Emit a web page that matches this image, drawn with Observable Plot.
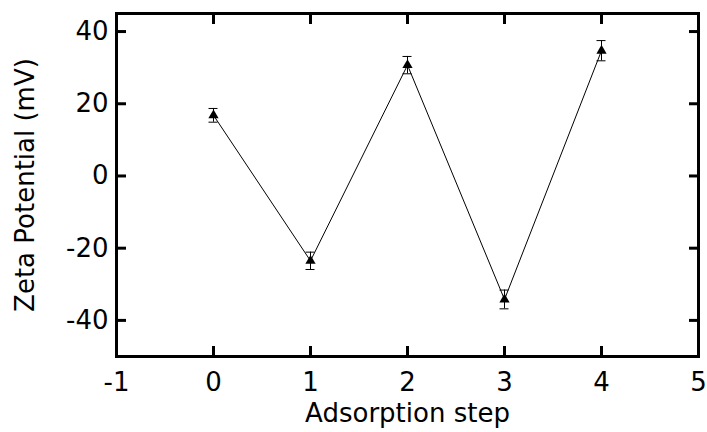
<!DOCTYPE html>
<html>
<head>
<meta charset="utf-8">
<script src="https://cdn.jsdelivr.net/npm/d3@7"></script>
<script src="https://cdn.jsdelivr.net/npm/@observablehq/plot@0.6"></script>
<style>
  html, body { margin: 0; padding: 0; background: #fff; }
  #chart svg { display: block; }
</style>
</head>
<body>
<div id="chart"></div>
<script>
const steps = [0, 1, 2, 3, 4];
const zeta = [16.8, -23.5, 30.7, -34.2, 34.7];
const errs = [1.9, 2.4, 2.4, 2.6, 2.8];
const xTicks = [-1, 0, 1, 2, 3, 4, 5];
const yTicks = [-40, -20, 0, 20, 40];

const data = steps.map((s, i) => ({x: s, y: zeta[i], lo: zeta[i] - errs[i], hi: zeta[i] + errs[i]}));

const font = "DejaVu Sans, Verdana, sans-serif";
const fmt = d => String(d);

const chart = Plot.plot({
  width: 707,
  height: 432,
  marginLeft: 116,
  marginRight: 9,
  marginTop: 13,
  marginBottom: 76,
  style: {fontFamily: font, fontSize: "26px", color: "#000", background: "#fff"},
  x: {domain: [-1, 5]},
  y: {domain: [-50, 45]},
  marks: [
    // inward ticks on all four sides
    Plot.axisX(xTicks.slice(1, -1), {anchor: "bottom", tickSize: -10, strokeWidth: 3, tickFormat: () => "", label: null}),
    Plot.axisX(xTicks.slice(1, -1), {anchor: "top", tickSize: -10, strokeWidth: 3, tickFormat: () => "", label: null}),
    Plot.axisY(yTicks, {anchor: "left", tickSize: -10, strokeWidth: 3, tickFormat: () => "", label: null}),
    Plot.axisY(yTicks, {anchor: "right", tickSize: -10, strokeWidth: 3, tickFormat: () => "", label: null}),
    // labels
    Plot.axisX(xTicks, {anchor: "bottom", tickSize: 0, tickPadding: 16, fontSize: 26, tickFormat: fmt, label: "Adsorption step", labelAnchor: "center", labelArrow: "none", labelOffset: 65}),
    Plot.axisY(yTicks, {anchor: "left", tickSize: 0, tickPadding: 8, fontSize: 26, tickFormat: fmt, label: "Zeta Potential (mV)", labelAnchor: "center", labelArrow: "none", labelOffset: 101}),
    Plot.frame({stroke: "#000", strokeWidth: 3}),
    Plot.line(data, {x: "x", y: "y", stroke: "#000", strokeWidth: 1}),
    Plot.ruleX(data, {x: "x", y1: "lo", y2: "hi", stroke: "#000", strokeWidth: 1}),
    Plot.ruleY(data, {y: "lo", x1: "x", x2: "x", insetLeft: -4.5, insetRight: -4.5, stroke: "#000", strokeWidth: 1}),
    Plot.ruleY(data, {y: "hi", x1: "x", x2: "x", insetLeft: -4.5, insetRight: -4.5, stroke: "#000", strokeWidth: 1}),
    Plot.dot(data, {x: "x", y: "y", symbol: "triangle", r: 3.8, fill: "#000", stroke: "none"})
  ]
});
document.getElementById("chart").appendChild(chart);
</script>
</body>
</html>
